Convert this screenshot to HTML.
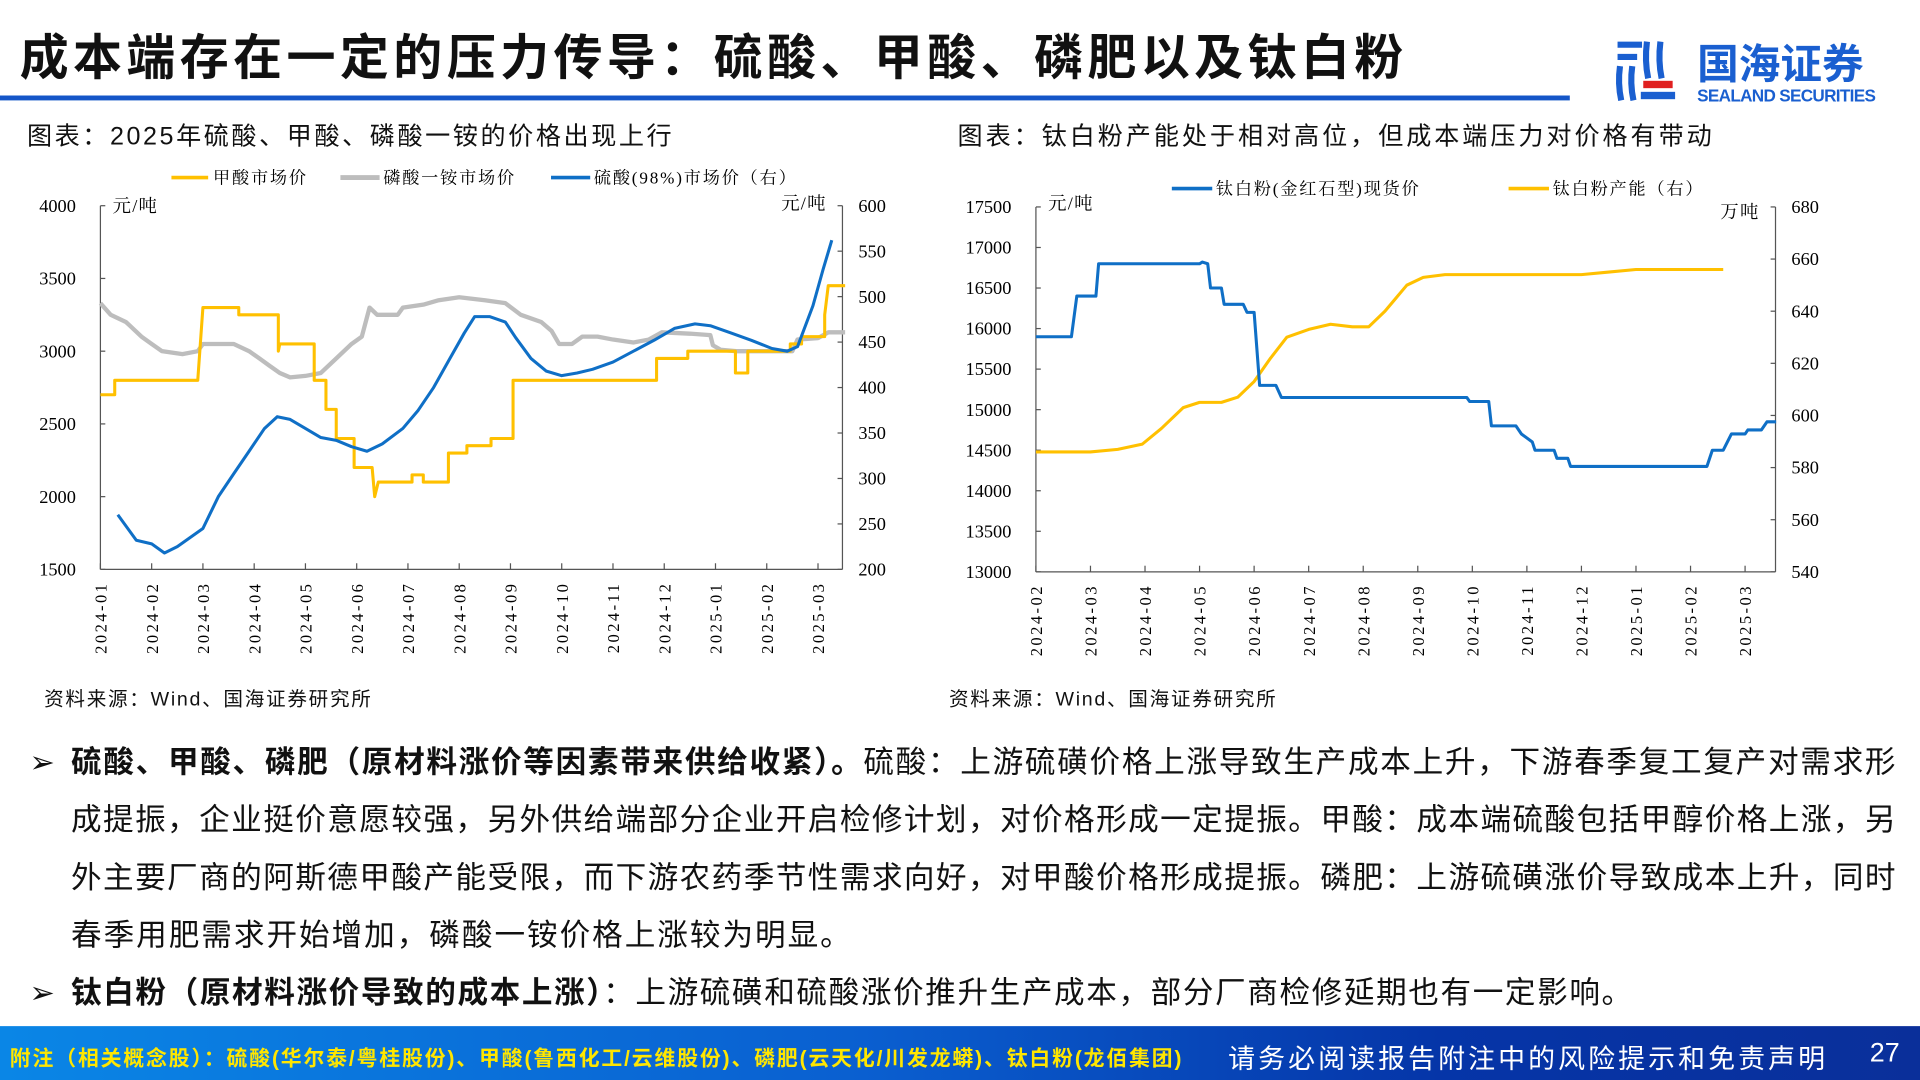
<!DOCTYPE html>
<html><head><meta charset="utf-8">
<style>
html,body{margin:0;padding:0;width:1920px;height:1080px;overflow:hidden;background:#fff;}
#s{position:absolute;left:0;top:0;width:1568px;height:882px;transform:scale(1.22449);transform-origin:0 0;font-family:"Liberation Sans","Noto Sans CJK SC",sans-serif;color:#111;}
.a{position:absolute;white-space:nowrap;}
.body{font-size:25px;line-height:47px;}
.j{position:absolute;left:58px;width:1490px;font-size:25px;line-height:47px;white-space:nowrap;text-align:justify;text-align-last:justify;}
</style></head><body>
<div id="s">
<div class="a" style="left:16px;top:15px;font-size:40px;font-weight:bold;letter-spacing:3.6px;">成本端存在一定的压力传导：硫酸、甲酸、磷肥以及钛白粉</div>
<div class="a" style="left:0;top:78px;width:1282px;height:4px;background:#1456c8;"></div>
<svg class="a" style="left:1318px;top:28px" width="220" height="60" viewBox="0 0 220 60">
<rect x="3" y="6" width="20" height="5" fill="#1a5fd0"/><rect x="3" y="16" width="16" height="5" fill="#1a5fd0"/>
<path d="M5 26 Q3 40 6 54" stroke="#1a5fd0" stroke-width="5" fill="none"/><path d="M15 26 Q13 40 16 54" stroke="#1a5fd0" stroke-width="5" fill="none"/>
<path d="M27 6 Q25 22 28 36" stroke="#1a5fd0" stroke-width="5" fill="none"/><path d="M38 6 Q36 22 39 36" stroke="#1a5fd0" stroke-width="5" fill="none"/>
<rect x="24" y="38" width="24" height="6" fill="#e02020"/><rect x="22" y="47" width="28" height="6" fill="#1a5fd0"/>
<text x="68" y="36" font-family="Liberation Sans,Noto Sans CJK SC,sans-serif" font-size="34" font-weight="bold" fill="#1a5fd0">国海证券</text>
<text x="68" y="55" font-family="Liberation Sans,sans-serif" font-size="14" font-weight="bold" fill="#1a5fd0" textLength="146">SEALAND SECURITIES</text>
</svg>
<div class="a" style="left:22px;top:94px;font-size:20.5px;letter-spacing:2.1px;">图表：2025年硫酸、甲酸、磷酸一铵的价格出现上行</div>
<div class="a" style="left:782px;top:94px;font-size:20.5px;letter-spacing:2.4px;">图表：钛白粉产能处于相对高位，但成本端压力对价格有带动</div>
<svg id="c" class="a" style="left:0;top:0" width="1568" height="600"></svg>
<div class="a" style="left:36px;top:557px;font-size:16px;letter-spacing:1.4px;">资料来源：Wind、国海证券研究所</div>
<div class="a" style="left:775px;top:557px;font-size:16px;letter-spacing:1.4px;">资料来源：Wind、国海证券研究所</div>
<div class="a body" style="left:24px;top:600px;">➢</div>
<div class="j" style="top:600px;"><b>硫酸、甲酸、磷肥（原材料涨价等因素带来供给收紧）。</b>硫酸：上游硫磺价格上涨导致生产成本上升，下游春季复工复产对需求形</div>
<div class="j" style="top:647px;">成提振，企业挺价意愿较强，另外供给端部分企业开启检修计划，对价格形成一定提振。甲酸：成本端硫酸包括甲醇价格上涨，另</div>
<div class="j" style="top:694px;">外主要厂商的阿斯德甲酸产能受限，而下游农药季节性需求向好，对甲酸价格形成提振。磷肥：上游硫磺涨价导致成本上升，同时</div>
<div class="a body" style="left:58px;top:741px;letter-spacing:1.6px;">春季用肥需求开始增加，磷酸一铵价格上涨较为明显。</div>
<div class="a body" style="left:24px;top:788px;">➢</div>
<div class="a body" style="left:58px;top:788px;letter-spacing:1.3px;"><b>钛白粉（原材料涨价导致的成本上涨）</b>：上游硫磺和硫酸涨价推升生产成本，部分厂商检修延期也有一定影响。</div>
<div class="a" style="left:0;top:838px;width:1568px;height:44px;background:linear-gradient(90deg,#0a86e6 0%,#0a5fd0 45%,#0535a8 75%,#0a2f9a 100%);"></div>
<div class="a" style="left:8px;top:850px;font-size:17px;font-weight:bold;color:#ffe600;letter-spacing:1.55px;">附注（相关概念股）：硫酸(华尔泰/粤桂股份)、甲酸(鲁西化工/云维股份)、磷肥(云天化/川发龙蟒)、钛白粉(龙佰集团)</div>
<div class="a" style="left:1003px;top:847px;font-size:22px;color:#fff;letter-spacing:2.5px;">请务必阅读报告附注中的风险提示和免责声明</div>
<div class="a" style="left:1527px;top:847px;font-size:22px;color:#fff;">27</div>
</div>
<script>
const S='http://www.w3.org/2000/svg',svg=document.getElementById('c');
function el(t,a,txt){const e=document.createElementNS(S,t);for(const k in a)e.setAttribute(k,a[k]);if(txt!=null)e.textContent=txt;svg.appendChild(e);return e;}
const F='Liberation Serif,Noto Serif CJK SC,serif';
function line(x1,y1,x2,y2){el('line',{x1,y1,x2,y2,stroke:'#555','stroke-width':1});}
function poly(pts,col,w){el('polyline',{points:pts.map(p=>p[0].toFixed(1)+','+p[1].toFixed(1)).join(' '),fill:'none',stroke:col,'stroke-width':w,'stroke-linejoin':'round'});}
{const L=82,R=688,T=168,B=465,mx=i=>L+i*41.86,yl=v=>B-(v-1500)/2500*(B-T),yr=v=>B-(v-200)/400*(B-T);
line(L,T,L,B);line(R,T,R,B);line(L,B,R,B);
for(let v=1500;v<=4000;v+=500){el('text',{x:L-20,y:yl(v)+5,'font-family':F,'font-size':15,'text-anchor':'end'},v);line(L,yl(v),L+4,yl(v));}
for(let v=200;v<=600;v+=50){el('text',{x:R+13,y:yr(v)+5,'font-family':F,'font-size':15},v);line(R-4,yr(v),R,yr(v));}
const ms=['2024-01','2024-02','2024-03','2024-04','2024-05','2024-06','2024-07','2024-08','2024-09','2024-10','2024-11','2024-12','2025-01','2025-02','2025-03'];
ms.forEach((m,i)=>{const x=mx(i);line(x,B,x,B-5);el('text',{x:0,y:0,'font-family':F,'font-size':13.5,'text-anchor':'end','letter-spacing':'2',transform:`translate(${x+5},${B+10}) rotate(-90)`},m);});
el('text',{x:92,y:173,'font-family':F,'font-size':15,'letter-spacing':1},'元/吨');el('text',{x:638,y:171,'font-family':F,'font-size':15,'letter-spacing':1},'元/吨');
el('line',{x1:140,y1:145,x2:170,y2:145,stroke:'#ffc000','stroke-width':3});el('text',{x:174,y:150,'font-family':F,'font-size':14,'letter-spacing':1.5},'甲酸市场价');
el('line',{x1:278,y1:145,x2:310,y2:145,stroke:'#bdbdbd','stroke-width':4});el('text',{x:313,y:150,'font-family':F,'font-size':14,'letter-spacing':1.5},'磷酸一铵市场价');
el('line',{x1:450,y1:145,x2:482,y2:145,stroke:'#0f6fc6','stroke-width':3});el('text',{x:485,y:150,'font-family':F,'font-size':14,'letter-spacing':1.5},'硫酸(98%)市场价（右）');
const g=[[0,3330],[.2,3250],[.5,3200],[.8,3100],[1,3050],[1.2,3000],[1.6,2980],[1.9,3000],[2,3050],[2.6,3050],[2.9,3000],[3.1,2950],[3.3,2900],[3.5,2850],[3.7,2820],[4,2830],[4.3,2850],[4.6,2950],[4.9,3050],[5.1,3100],[5.25,3300],[5.4,3250],[5.8,3250],[5.9,3300],[6.3,3320],[6.6,3350],[7,3370],[7.5,3350],[7.9,3330],[8.2,3250],[8.6,3200],[8.8,3140],[8.95,3050],[9.2,3050],[9.4,3100],[9.7,3100],[10,3080],[10.4,3060],[10.7,3080],[10.95,3130],[11.5,3120],[11.9,3110],[11.95,3040],[12.1,3010],[12.4,3000],[13.5,3000],[13.6,3080],[14,3090],[14.2,3130],[14.53,3130]];
poly(g.map(p=>[mx(p[0]),yl(p[1])]),'#bdbdbd',3.5);
const y=[[0,2700],[.28,2700],[.28,2800],[1.9,2800],[2,3300],[2.7,3300],[2.7,3250],[3.47,3250],[3.47,3000],[3.5,3050],[4.17,3050],[4.17,2800],[4.4,2800],[4.4,2600],[4.6,2600],[4.6,2400],[4.95,2400],[4.95,2200],[5.3,2200],[5.35,2000],[5.42,2100],[6.08,2100],[6.08,2150],[6.3,2150],[6.3,2100],[6.79,2100],[6.79,2300],[7.15,2300],[7.15,2350],[7.62,2350],[7.62,2400],[8.05,2400],[8.05,2800],[10.85,2800],[10.85,2950],[11.46,2950],[11.46,3000],[12.39,3000],[12.39,2850],[12.63,2850],[12.63,3000],[13.46,3000],[13.46,3050],[13.68,3050],[13.68,3100],[14.13,3100],[14.13,3250],[14.2,3450],[14.53,3450]];
poly(y.map(p=>[mx(p[0]),yl(p[1])]),'#ffc000',2.5);
const b=[[.34,260],[.7,232],[1,228],[1.25,218],[1.5,225],[2,245],[2.3,280],[2.6,305],[2.9,330],[3.2,355],[3.45,368],[3.7,365],[4,355],[4.3,345],[4.6,342],[4.9,335],[5.2,330],[5.5,338],[5.9,355],[6.2,375],[6.5,400],[6.8,430],[7.1,460],[7.3,478],[7.6,478],[7.9,472],[8.1,455],[8.4,432],[8.7,418],[9,413],[9.3,416],[9.6,420],[10,428],[10.4,440],[10.8,452],[11.2,465],[11.6,470],[11.9,468],[12.3,460],[12.7,452],[13.1,443],[13.4,440],[13.6,445],[13.9,490],[14.1,530],[14.27,562]];
poly(b.map(p=>[mx(p[0]),yr(p[1])]),'#0f6fc6',2.5);}
{const L=846,R=1450,T=169,B=467,mx=i=>L+i*44.55,yl=v=>B-(v-13000)/4500*(B-T),yr=v=>B-(v-540)/140*(B-T);
line(L,T,L,B);line(R,T,R,B);line(L,B,R,B);
for(let v=13000;v<=17500;v+=500){el('text',{x:L-20,y:yl(v)+5,'font-family':F,'font-size':15,'text-anchor':'end'},v);line(L,yl(v),L+4,yl(v));}
for(let v=540;v<=680;v+=20){el('text',{x:R+13,y:yr(v)+5,'font-family':F,'font-size':15},v);line(R-4,yr(v),R,yr(v));}
const ms=['2024-02','2024-03','2024-04','2024-05','2024-06','2024-07','2024-08','2024-09','2024-10','2024-11','2024-12','2025-01','2025-02','2025-03'];
ms.forEach((m,i)=>{const x=mx(i);line(x,B,x,B-5);el('text',{x:0,y:0,'font-family':F,'font-size':13.5,'text-anchor':'end','letter-spacing':'2',transform:`translate(${x+5},${B+10}) rotate(-90)`},m);});
el('text',{x:856,y:171,'font-family':F,'font-size':15,'letter-spacing':1},'元/吨');el('text',{x:1405,y:178,'font-family':F,'font-size':15,'letter-spacing':1},'万吨');
el('line',{x1:957,y1:154,x2:990,y2:154,stroke:'#0f6fc6','stroke-width':3});el('text',{x:993,y:159,'font-family':F,'font-size':14,'letter-spacing':1.5},'钛白粉(金红石型)现货价');
el('line',{x1:1232,y1:154,x2:1265,y2:154,stroke:'#ffc000','stroke-width':3});el('text',{x:1268,y:159,'font-family':F,'font-size':14,'letter-spacing':1.5},'钛白粉产能（右）');
const yy=[[0,586],[1,586],[1.5,587],[1.95,589],[2.3,595],[2.7,603],[3,605],[3.4,605],[3.7,607],[4,613],[4.3,622],[4.6,630],[5,633],[5.4,635],[5.8,634],[6.1,634],[6.4,640],[6.8,650],[7.1,653],[7.5,654],[9,654],[10,654],[10.5,655],[11,656],[11.5,656],[12,656],[12.6,656]];
poly(yy.map(p=>[mx(p[0]),yr(p[1])]),'#ffc000',2.5);
const bb=[[0,15900],[.65,15900],[.75,16400],[1.1,16400],[1.15,16800],[3,16800],[3.05,16820],[3.15,16800],[3.2,16500],[3.4,16500],[3.45,16300],[3.8,16300],[3.87,16200],[4,16200],[4.1,15300],[4.4,15300],[4.5,15150],[7.9,15150],[7.95,15100],[8.3,15100],[8.35,14800],[8.8,14800],[8.9,14700],[9.1,14600],[9.15,14500],[9.5,14500],[9.55,14400],[9.75,14400],[9.8,14300],[12.3,14300],[12.4,14500],[12.6,14500],[12.75,14700],[13,14700],[13.05,14750],[13.3,14750],[13.4,14850],[13.57,14850]];
poly(bb.map(p=>[mx(p[0]),yl(p[1])]),'#0f6fc6',2.5);}
</script>
</body></html>
